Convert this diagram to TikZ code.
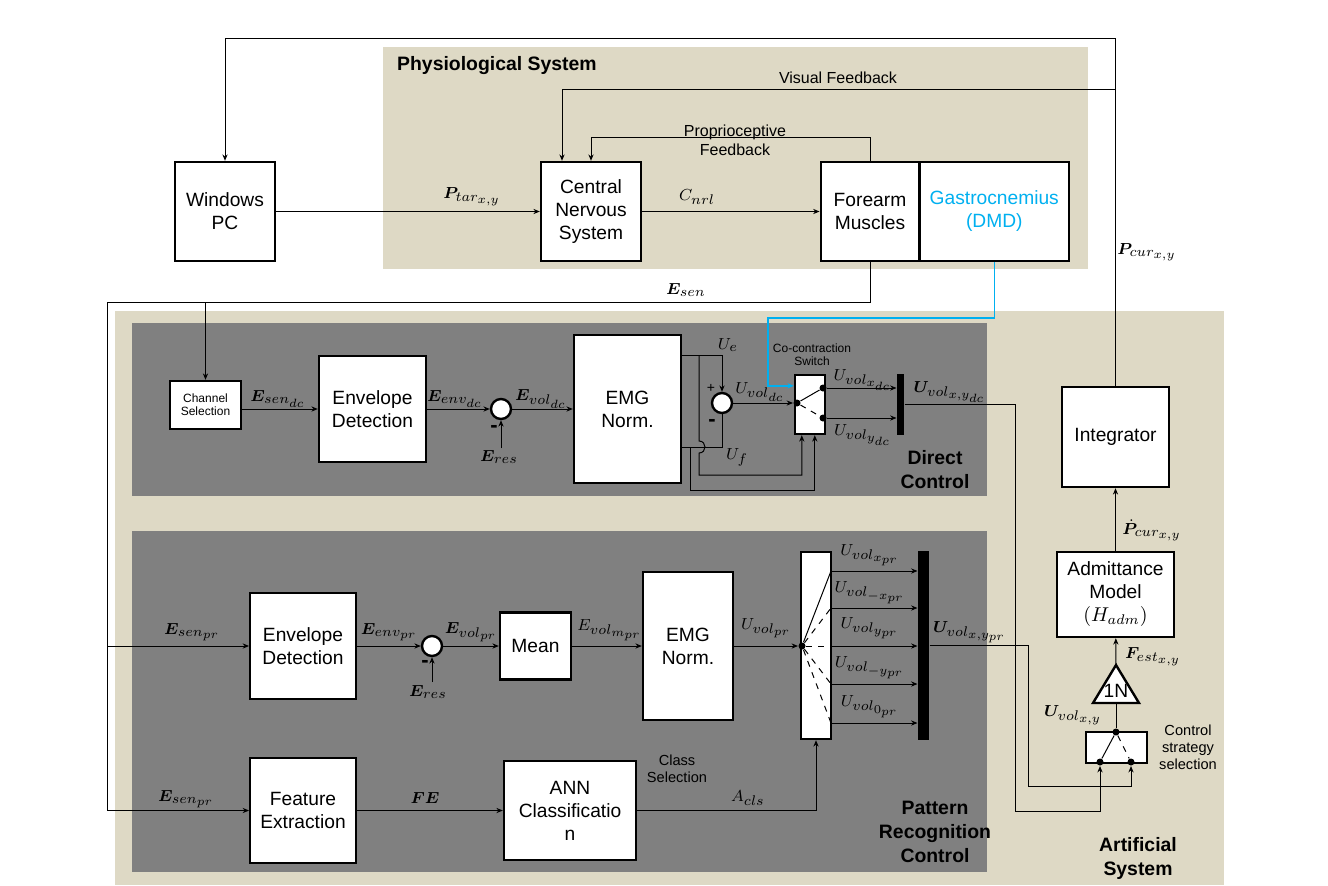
\documentclass[tikz,border=0pt]{standalone}
\usepackage{fontspec}
\setmainfont{Liberation Sans}
\usepackage{amsmath}
\usepackage{bm}
\usetikzlibrary{arrows.meta, calc, positioning}
\DeclareMathSizes{8.5}{8.5}{6.6}{5.6}
\definecolor{sand}{RGB}{222,217,197}
\definecolor{slate}{RGB}{128,128,128}
\definecolor{dmd}{RGB}{0,176,240}

\begin{document}
\begin{tikzpicture}[x=0.5pt, y=-0.5pt, line width=0.5pt,
  >={Stealth[length=3.2pt,width=2.6pt]},
  blk/.style={draw, line width=1.2pt, fill=white, align=center, inner sep=1pt,
    font=\fontsize{9.6}{11.5}\selectfont},
  sum/.style={circle, draw, line width=1.2pt, fill=white, minimum size=10pt, inner sep=0pt},
  dot/.style={circle, fill, minimum size=3.5pt, inner sep=0pt},
  bar/.style={fill=black, inner sep=0pt},
  lbl/.style={font=\fontsize{8.5}{10}\selectfont, inner sep=0pt},
  ttl/.style={font=\fontsize{9.7}{12}\selectfont\bfseries, align=center},
  sml/.style={font=\fontsize{6}{6.5}\selectfont, align=center},
  note/.style={font=\fontsize{7.3}{8.5}\selectfont, align=center},
  txt/.style={font=\fontsize{8}{9.5}\selectfont, align=center},
  sgn/.style={font=\fontsize{11}{11}\selectfont\bfseries, inner sep=0pt}]

% backgrounds
\fill[white] (0,0) rectangle (1328,885);
\useasboundingbox (0,0) rectangle (1328,885);
\fill[sand] (383,47) rectangle (1088,269);
\fill[sand] (115,311) rectangle (1224,885);
\fill[slate] (132,323) rectangle (987,496);
\fill[slate] (132,531) rectangle (987,872);

\node[ttl, anchor=west] (tphys) at (390,66) {Physiological System};
\node[ttl] (tdc) at (935,470) {Direct\\Control};
\node[ttl] (tpr) at (935,832) {Pattern\\Recognition\\Control};
\node[ttl] (tart) at (1138,858) {Artificial\\System};

% physiological system
\node[blk, minimum width=50pt, minimum height=49.5pt] (pc) at (225,211.5) {Windows\\PC};
\node[blk, minimum width=50pt, minimum height=49.5pt] (cns) at (591,211.5) {Central\\Nervous\\System};
\node[blk, minimum width=49.25pt, minimum height=49.5pt] (fm) at (870,211.5) {Forearm\\Muscles};
\node[blk, minimum width=74.75pt, minimum height=49.5pt, text=dmd] (gm) at (994.25,211.5) {Gastrocnemius\\(DMD)};

% direct control
\node[blk, sml, minimum width=35.5pt, minimum height=24pt] (ch) at (205.5,405) {Channel\\Selection};
\node[blk, minimum width=53.5pt, minimum height=53pt] (envdc) at (372.5,409) {Envelope\\Detection};
\node[sum] (s1) at (501,409) {};
\node[blk, minimum width=53.5pt, minimum height=74pt] (emgdc) at (627.5,409) {EMG\\Norm.};
\node[sum] (s2) at (722,403) {};
\node[blk, minimum width=15pt, minimum height=29.5pt] (swdc) at (810,404.5) {};
\node[bar, minimum width=3.5pt, minimum height=30.5pt] (bardc) at (900.5,404.5) {};
\node[dot] (d0) at (797,403) {};
\node[dot] (d1) at (823,388) {};
\node[dot] (d2) at (823,418) {};

% pattern recognition control
\node[blk, minimum width=52.75pt, minimum height=53pt] (envpr) at (303,646) {Envelope\\Detection};
\node[sum] (s3) at (432,646) {};
\node[blk, minimum width=35.5pt, minimum height=33.5pt] (mean) at (535.5,646) {Mean};
\node[blk, minimum width=45pt, minimum height=74pt] (emgpr) at (688,646) {EMG\\Norm.};
\node[blk, minimum width=15pt, minimum height=93.5pt] (swpr) at (816,645.5) {};
\node[bar, minimum width=5.5pt, minimum height=94.5pt] (barpr) at (923.5,645.5) {};
\node[dot] (p0) at (802,646) {};
\node[blk, minimum width=52.75pt, minimum height=52.5pt] (fe) at (303,810.5) {Feature\\Extraction};
\node[blk, minimum width=66pt, minimum height=49.5pt] (ann) at (570,810.5) {ANN\\Classificatio\\n};

% artificial system
\node[blk, minimum width=53.5pt, minimum height=50pt] (integ) at (1115.5,437) {Integrator};
\node[blk, minimum width=58.5pt, minimum height=42.5pt] (adm) at (1115.5,594.5) {Admittance\\Model\\$(H_{adm})$};
\draw[line width=1.2pt, fill=white] (1093,703) -- (1116,665) -- (1139,703) -- cycle;
\node[font=\fontsize{9.6}{10}\selectfont, inner sep=0pt] (gain) at (1116,691) {1N};
\node[blk, minimum width=30.5pt, minimum height=15.5pt] (cs) at (1116.5,747.5) {};
\node[dot] (c0) at (1116,732) {};
\node[dot] (c1) at (1100,762) {};
\node[dot] (c2) at (1131,762) {};

\coordinate (tl) at (0,38);
\coordinate (vf) at (0,89);
\coordinate (es) at (107,302);
\coordinate (bl) at (768,318);
\coordinate (er1) at (501,448);
\coordinate (er2) at (432,682);
\coordinate (ue) at (681,355);
\coordinate (uf) at (681,447);
\coordinate (ueb) at (699,355);
\coordinate (ufb) at (690,447);
\coordinate (h1) at (699,475);
\coordinate (h2) at (690,490);
\coordinate (dcr) at (1015,811);
\coordinate (prr) at (1028,786);
\coordinate (gA) at (1116,665);
\coordinate (gB) at (1116,703);
\coordinate (p1) at (831,571);
\coordinate (p2) at (831,608);
\coordinate (p3) at (831,646);
\coordinate (p4) at (831,684);
\coordinate (p5) at (831,723);

% feedback loops
\draw[->] (integ.north) -- (integ.north |- tl) -| (pc.north);
\draw[->] (integ.north |- vf) -| ($(cns.north)+(-29,0)$);
\draw[->] (fm.north) |- ($(cns.north)+(0,-23)$) -- (cns.north);
\draw[->] (pc) -- (cns);
\draw[->] (cns) -- (fm);

% sensor lines
\draw[->] (fm.south) |- (es) |- (fe.west);
\draw[->] (es |- envpr.west) -- (envpr.west);
\draw[->] (ch.north |- es) -- (ch.north);
\draw[->, dmd, line width=0.7pt] (gm.south) |- (bl) |- ($(swdc.north west)+(0,12)$);

% direct control wiring
\draw[->] (ch.east |- envdc.west) -- (envdc.west);
\draw[->] (envdc) -- (s1);
\draw[->] (er1) -- (s1);
\draw[->] (s1) -- (emgdc);
\draw[->] (ue) -| (s2.north);
\draw (uf) -| (s2.south);
\draw[->] (ueb) -- ($(ueb)+(0,86)$) .. controls +(8,0) and +(8,0) .. ($(ueb)+(0,98)$)
  -- (h1) -| ($(swdc.south west)+(8,0)$);
\draw[->] (ufb) -- (h2) -| ($(swdc.south west)+(21,0)$);
\draw[->] (s2) -- (d0);
\draw (d0) -- (d1);
\draw[dashed] (d0) -- (d2);
\draw[->] (d1) -- (d1 -| bardc.west);
\draw[->] (d2) -- (d2 -| bardc.west);
\draw[->] (bardc.east) -| (dcr) -| (c1);

% pattern recognition wiring
\draw[->] (envpr) -- (s3);
\draw[->] (er2) -- (s3);
\draw[->] (s3) -- (mean);
\draw[->] (mean) -- (emgpr);
\draw[->] (emgpr) -- (p0);
\draw (p0) -- (p1);
\foreach \i in {2,...,5} \draw[dashed] (p0) -- (p\i);
\foreach \i in {1,...,5} \draw[->] (p\i) -- (p\i -| barpr.west);
\draw[->] (fe) -- (ann);
\draw[->] (ann) -| (swpr.south);
\draw[->] (barpr.east) -| (prr) -| (c2);

% artificial system wiring
\draw (c0) -- (c1);
\draw[dashed] (c0) -- (c2);
\draw (c0) -- (gB);
\draw[->] (gA) -- (adm);
\draw[->] (adm) -- (integ);

% labels
\node[txt] (lvis) at (838,78) {Visual Feedback};
\node[txt] (lprop) at (735,140) {Proprioceptive\\Feedback};
\node[lbl] (lptar) at (472,197) {$\bm{P}_{tar_{x,y}}$};
\node[lbl] (lcnrl) at (697,197) {$C_{nrl}$};
\node[lbl] (lesen) at (686,290) {$\bm{E}_{sen}$};
\node[lbl] (lpcur) at (1147,252) {$\bm{P}_{cur_{x,y}}$};

\node[lbl] (lsdc) at (278,399) {$\bm{E}_{sen_{dc}}$};
\node[lbl] (levdc) at (455,399) {$\bm{E}_{env_{dc}}$};
\node[lbl] (lvdc) at (541,399) {$\bm{E}_{vol_{dc}}$};
\node[lbl] (lr1) at (499,457) {$\bm{E}_{res}$};
\node[sgn] (m1) at (494,429) {-};
\node[lbl] (lue) at (728,345) {$U_{e}$};
\node[lbl] (luf) at (737,457) {$U_{f}$};
\node[font=\fontsize{7}{8}\selectfont, inner sep=0pt] (pl) at (711,388) {+};
\node[sgn] (m2) at (712,423) {-};
\node[lbl] (luvdc) at (760,392) {$U_{vol_{dc}}$};
\node[sml] (lcc) at (812,355) {Co-contraction\\Switch};
\node[lbl] (luxdc) at (863,380) {$U_{vol_{x_{dc}}}$};
\node[lbl] (luydc) at (863,435) {$U_{vol_{y_{dc}}}$};
\node[lbl] (luxydc) at (950,392) {$\bm{U}_{vol_{x,y_{dc}}}$};

\node[lbl] (lspr) at (192,632) {$\bm{E}_{sen_{pr}}$};
\node[lbl] (lepr) at (389,632) {$\bm{E}_{env_{pr}}$};
\node[lbl] (lvpr) at (471,632) {$\bm{E}_{vol_{pr}}$};
\node[lbl] (lr2) at (428,692) {$\bm{E}_{res}$};
\node[sgn] (m3) at (425,664) {-};
\node[lbl] (lvmpr) at (610,630) {$E_{vol_{m_{pr}}}$};
\node[lbl] (luvpr) at (766,628) {$U_{vol_{pr}}$};
\node[lbl] (lu1) at (870,555) {$U_{vol_{x_{pr}}}$};
\node[lbl] (lu2) at (870,593) {$U_{vol_{-x_{pr}}}$};
\node[lbl] (lu3) at (870,628) {$U_{vol_{y_{pr}}}$};
\node[lbl] (lu4) at (870,668) {$U_{vol_{-y_{pr}}}$};
\node[lbl] (lu5) at (870,707) {$U_{vol_{0_{pr}}}$};
\node[lbl] (luxypr) at (970,632) {$\bm{U}_{vol_{x,y_{pr}}}$};
\node[lbl] (lspr2) at (186,799) {$\bm{E}_{sen_{pr}}$};
\node[lbl] (lfe) at (425,798) {$\bm{FE}$};
\node[note] (lcls) at (677,769) {Class\\Selection};
\node[lbl] (lacls) at (748,798) {$A_{cls}$};

\node[lbl] (lpdot) at (1152,530) {$\dot{\bm{P}}_{cur_{x,y}}$};
\node[lbl] (lfest) at (1153,657) {$\bm{F}_{est_{x,y}}$};
\node[lbl] (luxy) at (1073,715) {$\bm{U}_{vol_{x,y}}$};
\node[note] (lcss) at (1188,747) {Control\\strategy\\selection};
\end{tikzpicture}
\end{document}
